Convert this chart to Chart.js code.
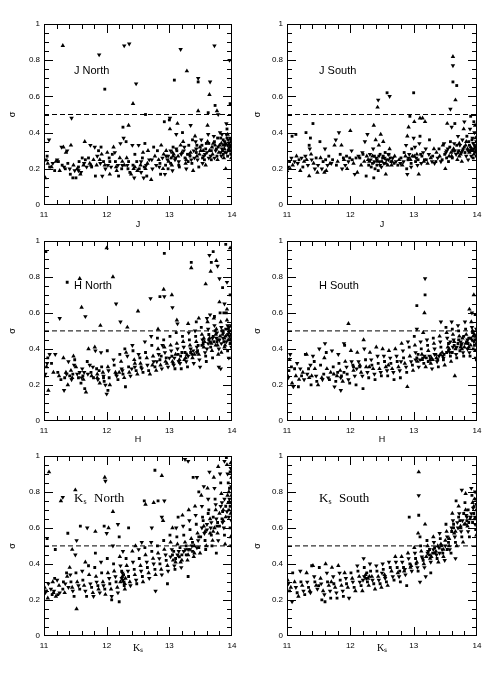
<!DOCTYPE html>
<html><head><meta charset="utf-8">
<script src="https://cdn.jsdelivr.net/npm/chart.js@4/dist/chart.umd.min.js"></script>
<style>
html,body{margin:0;padding:0;background:#fff;width:493px;height:673px;overflow:hidden;position:relative;}
canvas{position:absolute;}
</style></head><body>
<canvas id="c0" width="245" height="232" style="left:0;top:0"></canvas>
<canvas id="c1" width="248" height="232" style="left:245px;top:0"></canvas>
<canvas id="c2" width="245" height="215" style="left:0;top:232px"></canvas>
<canvas id="c3" width="248" height="215" style="left:245px;top:232px"></canvas>
<canvas id="c4" width="245" height="226" style="left:0;top:447px"></canvas>
<canvas id="c5" width="248" height="226" style="left:245px;top:447px"></canvas>
<script>
// ---- data: [magnitude, sigma] ----
const jNorth = [
[11.02,0.15],[11.03,0.25],[11.05,0.27],[11.06,0.23],[11.08,0.36],[11.09,0.21],
[11.12,0.21],[11.14,0.23],[11.17,0.19],[11.19,0.24],
[11.21,0.25],[11.23,0.24],[11.25,0.19],[11.28,0.32],[11.29,0.22],
[11.31,0.32],[11.32,0.21],[11.34,0.2],[11.35,0.29],[11.37,0.3],[11.38,0.23],[11.30,0.88],
[11.41,0.2],[11.42,0.17],[11.43,0.33],[11.44,0.48],[11.46,0.15],[11.47,0.22],[11.49,0.19],
[11.51,0.15],[11.53,0.2],[11.55,0.19],[11.56,0.24],[11.58,0.17],[11.59,0.18],
[11.61,0.26],[11.63,0.22],[11.64,0.23],[11.66,0.25],[11.65,0.35],[11.68,0.21],
[11.71,0.26],[11.73,0.23],[11.74,0.33],[11.76,0.21],[11.79,0.25],
[11.81,0.32],[11.82,0.16],[11.84,0.22],[11.85,0.27],[11.87,0.3],[11.89,0.25],[11.88,0.83],
[11.91,0.32],[11.92,0.28],[11.93,0.16],[11.95,0.24],[11.97,0.22],[11.98,0.2],[11.97,0.64],
[12.01,0.29],[12.02,0.22],[12.04,0.26],[12.05,0.17],[12.07,0.21],[12.09,0.28],
[12.11,0.32],[12.13,0.29],[12.14,0.24],[12.16,0.19],[12.18,0.22],[12.19,0.16],
[12.21,0.26],[12.22,0.34],[12.24,0.2],[12.25,0.24],[12.27,0.37],[12.26,0.43],[12.28,0.22],[12.28,0.88],
[12.31,0.35],[12.32,0.26],[12.33,0.22],[12.34,0.2],[12.35,0.44],[12.36,0.89],[12.37,0.18],[12.39,0.17],
[12.41,0.33],[12.42,0.22],[12.43,0.2],[12.44,0.15],[12.45,0.28],[12.42,0.56],[12.47,0.67],[12.48,0.24],[12.49,0.19],
[12.51,0.33],[12.52,0.2],[12.54,0.22],[12.55,0.18],[12.57,0.26],[12.58,0.29],[12.59,0.15],
[12.61,0.34],[12.62,0.2],[12.63,0.22],[12.64,0.16],[12.66,0.3],[12.68,0.25],[12.62,0.5],
[12.71,0.14],[12.73,0.2],[12.75,0.32],[12.77,0.27],[12.79,0.22],
[12.81,0.3],[12.83,0.25],[12.84,0.21],[12.86,0.17],[12.87,0.33],[12.89,0.26],
[12.92,0.46],[12.91,0.28],[12.93,0.17],[12.94,0.22],[12.95,0.3],[12.97,0.25],[12.98,0.2],[12.99,0.24],
[13.01,0.48],[13.0,0.47],[13.01,0.42],[13.02,0.3],[13.03,0.26],[13.04,0.22],[13.05,0.19],[13.06,0.32],[13.07,0.28],[13.09,0.25],[13.08,0.69],
[13.13,0.45],[13.11,0.39],[13.12,0.3],[13.14,0.27],[13.15,0.24],[13.16,0.21],[13.18,0.33],[13.18,0.86],
[13.21,0.40],[13.22,0.35],[13.23,0.3],[13.25,0.26],[13.26,0.23],[13.27,0.2],[13.29,0.28],[13.28,0.74],
[13.34,0.44],[13.31,0.33],[13.32,0.28],[13.35,0.25],[13.36,0.23],[13.38,0.19],[13.39,0.3],[13.37,0.36],
[13.41,0.38],[13.42,0.35],[13.43,0.29],[13.44,0.27],[13.45,0.25],[13.47,0.21],[13.46,0.52],[13.46,0.70],[13.46,0.68],[13.49,0.32],
[13.51,0.36],[13.52,0.33],[13.54,0.3],[13.55,0.27],[13.56,0.25],[13.58,0.22],[13.57,0.28],[13.59,0.34],
[13.61,0.44],[13.62,0.39],[13.63,0.34],[13.64,0.3],[13.66,0.27],[13.67,0.25],[13.64,0.61],[13.65,0.68],[13.62,0.51],[13.69,0.28],
[13.71,0.38],[13.72,0.35],[13.73,0.33],[13.74,0.3],[13.76,0.27],[13.77,0.25],[13.72,0.88],[13.73,0.55],[13.76,0.52],[13.78,0.5],[13.78,0.32],[13.79,0.29],
[13.81,0.4],[13.82,0.37],[13.83,0.34],[13.84,0.31],[13.86,0.28],[13.87,0.26],[13.88,0.35],[13.89,0.33],[13.85,0.3],
[13.91,0.45],[13.92,0.42],[13.93,0.39],[13.94,0.36],[13.95,0.34],[13.96,0.32],[13.97,0.3],[13.98,0.28],[13.99,0.26],[13.96,0.8],[13.97,0.56],[13.9,0.2],[13.93,0.33],[13.98,0.35],
[13.88,0.31],[13.91,0.29],[13.94,0.3],[13.97,0.33],[13.99,0.36],[13.92,0.37],[13.86,0.33],[13.82,0.29],[13.75,0.31],[13.68,0.32],
[13.6,0.29],[13.53,0.26],[13.48,0.28],[13.43,0.31],[13.33,0.27],[13.27,0.25],[13.19,0.28],[13.1,0.26],[13.05,0.29],[12.98,0.27],
[13.02,0.23],[13.06,0.27],[13.11,0.31],[13.15,0.22],[13.2,0.29],[13.24,0.32],[13.3,0.24],[13.34,0.29],[13.4,0.26],[13.44,0.33],
[13.5,0.3],[13.53,0.23],[13.58,0.31],[13.61,0.35],[13.63,0.26],[13.67,0.3],[13.7,0.34],[13.72,0.26],[13.77,0.37],[13.8,0.33],
[13.83,0.27],[13.86,0.36],[13.89,0.29],[13.91,0.39],[13.93,0.27],[13.95,0.31],[13.97,0.37],[13.99,0.32],[13.9,0.34],[13.84,0.39],
[12.05,0.24],[12.15,0.21],[12.25,0.22],[12.35,0.24],[12.45,0.21],[12.55,0.24],[12.6,0.21],[12.65,0.23],[12.72,0.25],[12.85,0.23],
[12.9,0.2],[12.95,0.27],[11.55,0.21],[11.75,0.22],[11.9,0.23]
];
const jSouth = [
[11.0,0.19],[11.02,0.21],[11.04,0.24],[11.05,0.2],[11.07,0.26],[11.08,0.38],[11.09,0.22],
[11.12,0.24],[11.14,0.39],[11.15,0.27],[11.17,0.23],[11.19,0.25],
[11.21,0.19],[11.23,0.26],[11.25,0.21],[11.27,0.24],[11.29,0.27],
[11.3,0.4],[11.31,0.25],[11.33,0.22],[11.35,0.33],[11.35,0.16],[11.36,0.31],[11.37,0.37],[11.38,0.28],[11.39,0.25],
[11.41,0.45],[11.42,0.23],[11.44,0.2],[11.46,0.26],[11.48,0.18],[11.49,0.22],
[11.52,0.35],[11.53,0.26],[11.55,0.2],[11.57,0.24],[11.59,0.18],
[11.6,0.31],[11.61,0.25],[11.62,0.19],[11.64,0.22],[11.66,0.27],[11.68,0.23],
[11.7,0.23],[11.72,0.25],[11.75,0.33],[11.77,0.36],[11.78,0.22],
[11.8,0.24],[11.82,0.4],[11.84,0.28],[11.86,0.33],[11.87,0.2],[11.89,0.26],
[11.9,0.25],[11.92,0.22],[11.94,0.27],[11.95,0.2],[11.97,0.24],[11.99,0.26],
[12.0,0.41],[12.02,0.3],[12.03,0.25],[12.05,0.23],[12.07,0.17],[12.09,0.26],
[12.11,0.18],[12.13,0.27],[12.15,0.26],[12.17,0.22],[12.19,0.29],
[12.2,0.28],[12.22,0.24],[12.23,0.35],[12.25,0.16],[12.26,0.27],[12.27,0.39],[12.29,0.22],
[12.3,0.24],[12.31,0.28],[12.33,0.21],[12.35,0.27],[12.36,0.31],[12.37,0.15],[12.37,0.44],[12.38,0.24],[12.39,0.2],
[12.4,0.36],[12.41,0.26],[12.42,0.22],[12.43,0.54],[12.44,0.58],[12.44,0.19],[12.45,0.33],[12.46,0.24],[12.47,0.28],[12.48,0.39],[12.49,0.21],
[12.51,0.26],[12.52,0.35],[12.53,0.23],[12.55,0.29],[12.56,0.17],[12.57,0.25],[12.58,0.62],[12.59,0.22],
[12.6,0.25],[12.61,0.28],[12.62,0.31],[12.62,0.6],[12.64,0.24],[12.65,0.22],[12.67,0.26],[12.69,0.23],
[12.7,0.27],[12.72,0.24],[12.75,0.22],[12.77,0.25],[12.79,0.23],
[12.8,0.26],[12.82,0.22],[12.84,0.24],[12.85,0.29],[12.87,0.27],[12.88,0.33],[12.89,0.2],
[12.9,0.38],[12.9,0.17],[12.91,0.25],[12.92,0.43],[12.93,0.28],[12.94,0.49],[12.95,0.25],[12.96,0.21],[12.97,0.31],[12.98,0.27],
[13.0,0.37],[13.0,0.62],[13.01,0.46],[13.02,0.32],[13.03,0.24],[13.05,0.28],[13.06,0.22],[13.07,0.25],[13.08,0.17],[13.09,0.34],
[13.1,0.38],[13.1,0.48],[13.12,0.23],[13.13,0.27],[13.14,0.48],[13.15,0.29],[13.17,0.25],[13.18,0.46],[13.19,0.31],
[13.2,0.25],[13.22,0.23],[13.24,0.28],[13.25,0.36],[13.27,0.26],[13.29,0.24],
[13.3,0.27],[13.32,0.31],[13.33,0.23],[13.35,0.24],[13.36,0.29],[13.38,0.26],
[13.4,0.31],[13.41,0.27],[13.43,0.24],[13.45,0.25],[13.46,0.33],[13.48,0.34],[13.49,0.28],
[13.5,0.2],[13.51,0.29],[13.52,0.26],[13.53,0.45],[13.54,0.31],[13.55,0.24],[13.56,0.27],[13.58,0.53],[13.58,0.35],[13.59,0.29],
[13.6,0.43],[13.61,0.26],[13.62,0.82],[13.62,0.77],[13.62,0.68],[13.63,0.31],[13.64,0.34],[13.65,0.45],[13.66,0.58],[13.67,0.28],[13.68,0.66],[13.69,0.25],
[13.7,0.38],[13.71,0.3],[13.72,0.27],[13.73,0.33],[13.75,0.29],[13.76,0.24],[13.77,0.36],[13.78,0.31],[13.79,0.42],
[13.8,0.46],[13.81,0.29],[13.82,0.33],[13.83,0.27],[13.84,0.38],[13.85,0.31],[13.86,0.25],[13.87,0.35],[13.88,0.29],[13.89,0.42],
[13.9,0.49],[13.9,0.32],[13.91,0.27],[13.92,0.36],[13.93,0.3],[13.94,0.34],[13.95,0.46],[13.95,0.28],[13.96,0.4],[13.97,0.32],[13.98,0.3],[13.99,0.35],[13.99,0.27],[13.97,0.44],
[12.42,0.25],[12.45,0.27],[12.5,0.24],[12.54,0.26],[12.35,0.23],[12.28,0.25],[13.62,0.3],[13.68,0.33],[13.74,0.28],[13.9,0.3],[13.94,0.26],[13.97,0.29],
[12.32,0.25],[12.38,0.27],[12.43,0.24],[12.47,0.22],[12.52,0.27],[12.56,0.23],[12.6,0.28],[12.63,0.26],[12.66,0.24],[12.92,0.26],
[12.96,0.23],[13.01,0.27],[13.04,0.26],[13.11,0.28],[13.16,0.24],
[13.52,0.3],[13.57,0.32],[13.6,0.27],[13.65,0.3],[13.7,0.29],[13.72,0.34],[13.77,0.3],[13.8,0.32],[13.83,0.35],[13.86,0.3],
[13.88,0.33],[13.91,0.31],[13.93,0.37],[13.96,0.33],[13.98,0.37],[13.95,0.31],[13.99,0.32]
];
const hNorth = [
[11.01,0.25],[11.02,0.26],[11.03,0.94],[11.04,0.3],[11.05,0.32],[11.06,0.35],[11.07,0.17],[11.09,0.37],
[11.12,0.32],[11.15,0.27],[11.18,0.37],
[11.22,0.27],[11.24,0.25],[11.25,0.57],[11.27,0.23],
[11.31,0.35],[11.32,0.17],[11.33,0.24],[11.35,0.27],[11.36,0.26],[11.37,0.77],[11.38,0.2],[11.39,0.33],
[11.41,0.25],[11.43,0.28],[11.44,0.23],[11.46,0.26],[11.47,0.36],[11.48,0.31],[11.49,0.34],
[11.51,0.3],[11.53,0.26],[11.55,0.24],[11.57,0.79],[11.57,0.27],[11.59,0.21],[11.6,0.63],
[11.61,0.29],[11.62,0.25],[11.63,0.23],[11.64,0.27],[11.65,0.18],[11.67,0.16],[11.66,0.58],[11.69,0.33],
[11.71,0.4],[11.73,0.31],[11.75,0.27],[11.76,0.25],[11.78,0.3],[11.79,0.24],
[11.81,0.41],[11.82,0.39],[11.84,0.29],[11.85,0.26],[11.86,0.23],[11.88,0.28],[11.89,0.21],
[11.91,0.38],[11.92,0.3],[11.94,0.27],[11.95,0.25],[11.96,0.22],[11.9,0.53],[11.98,0.2],
[12.01,0.39],[12.02,0.3],[12.03,0.28],[12.04,0.24],[12.05,0.2],[12.0,0.15],[12.02,0.17],[12.0,0.96],
[12.11,0.34],[12.12,0.31],[12.14,0.27],[12.16,0.25],[12.18,0.23],[12.1,0.8],[12.15,0.65],
[12.21,0.37],[12.23,0.33],[12.24,0.29],[12.26,0.26],[12.28,0.24],[12.22,0.55],[12.29,0.4],
[12.31,0.38],[12.33,0.36],[12.35,0.3],[12.36,0.27],[12.38,0.25],[12.3,0.19],[12.33,0.52],
[12.41,0.42],[12.42,0.39],[12.44,0.34],[12.45,0.3],[12.47,0.28],[12.49,0.26],
[12.51,0.37],[12.53,0.35],[12.54,0.32],[12.56,0.29],[12.58,0.27],[12.5,0.61],
[12.61,0.44],[12.62,0.38],[12.64,0.35],[12.65,0.31],[12.67,0.28],[12.69,0.26],
[12.71,0.47],[12.72,0.42],[12.74,0.36],[12.75,0.33],[12.77,0.3],[12.79,0.28],[12.7,0.68],
[12.81,0.46],[12.82,0.4],[12.83,0.37],[12.85,0.34],[12.86,0.31],[12.88,0.29],[12.85,0.69],[12.82,0.51],[12.89,0.42],
[12.91,0.45],[12.92,0.41],[12.93,0.38],[12.95,0.35],[12.96,0.32],[12.98,0.3],[12.92,0.93],[12.91,0.73],[12.92,0.69],
[13.01,0.47],[13.02,0.42],[13.03,0.39],[13.04,0.36],[13.05,0.33],[13.07,0.31],[13.09,0.29],[13.04,0.7],[13.05,0.63],
[13.11,0.49],[13.12,0.43],[13.13,0.4],[13.14,0.37],[13.16,0.34],[13.17,0.32],[13.19,0.29],[13.12,0.56],[13.13,0.54],
[13.21,0.47],[13.22,0.44],[13.23,0.41],[13.25,0.38],[13.26,0.35],[13.27,0.33],[13.29,0.3],[13.3,0.54],
[13.31,0.49],[13.32,0.45],[13.33,0.42],[13.34,0.4],[13.36,0.37],[13.37,0.35],[13.39,0.32],[13.35,0.88],[13.35,0.85],
[13.41,0.5],[13.42,0.47],[13.43,0.44],[13.44,0.41],[13.45,0.39],[13.47,0.37],[13.48,0.34],[13.43,0.55],[13.47,0.57],[13.49,0.3],
[13.51,0.52],[13.52,0.48],[13.53,0.45],[13.54,0.43],[13.55,0.41],[13.57,0.38],[13.58,0.36],[13.58,0.76],[13.6,0.57],[13.59,0.33],
[13.61,0.55],[13.62,0.51],[13.63,0.48],[13.64,0.46],[13.65,0.44],[13.66,0.41],[13.68,0.39],[13.64,0.92],[13.67,0.88],[13.66,0.83],[13.65,0.59],[13.69,0.35],
[13.71,0.57],[13.72,0.53],[13.73,0.5],[13.74,0.48],[13.75,0.46],[13.76,0.44],[13.77,0.42],[13.79,0.4],[13.7,0.94],[13.75,0.89],[13.77,0.86],[13.72,0.58],[13.78,0.37],[13.79,0.3],
[13.81,0.6],[13.82,0.55],[13.83,0.52],[13.84,0.5],[13.85,0.48],[13.86,0.46],[13.87,0.44],[13.89,0.42],[13.8,0.79],[13.85,0.74],[13.8,0.66],[13.88,0.65],[13.87,0.6],[13.83,0.38],[13.82,0.29],
[13.91,0.6],[13.92,0.56],[13.93,0.53],[13.94,0.51],[13.95,0.49],[13.96,0.47],[13.97,0.45],[13.98,0.43],[13.99,0.41],[13.9,0.98],[13.97,0.96],[13.92,0.77],[13.97,0.7],[13.92,0.62],[13.95,0.35],[13.93,0.39],
[13.55,0.46],[13.62,0.43],[13.7,0.47],[13.75,0.51],[13.8,0.45],[13.85,0.5],[13.9,0.47],[13.95,0.52],[13.98,0.48],[13.88,0.41],
[13.08,0.35],[13.18,0.36],[13.28,0.37],[13.38,0.39],[13.46,0.42],[11.45,0.24],[11.7,0.26],[11.95,0.24],[12.2,0.27],[12.4,0.29],
[13.52,0.42],[13.56,0.44],[13.6,0.4],[13.63,0.45],[13.67,0.43],[13.69,0.46],[13.71,0.44],[13.74,0.42],[13.76,0.49],[13.78,0.45],
[13.81,0.47],[13.83,0.43],[13.86,0.49],[13.88,0.46],[13.91,0.44],[13.93,0.48],[13.94,0.45],[13.96,0.5],[13.97,0.43],[13.99,0.46],
[13.98,0.53],[13.9,0.51],
[12.73,0.31],[12.8,0.33],[12.87,0.36],[12.94,0.33],[13.0,0.35],[13.06,0.32],[13.1,0.37],[13.15,0.33],[13.2,0.38],[13.24,0.34],
[13.3,0.36],[13.34,0.38],[13.4,0.37],[13.44,0.38],[12.55,0.3],[12.45,0.32],[12.25,0.28],[12.15,0.26],[11.85,0.24],[11.6,0.24]
];
const hSouth = [
[11.01,0.25],[11.02,0.24],[11.03,0.28],[11.04,0.34],[11.05,0.37],[11.07,0.3],[11.08,0.21],[11.1,0.19],
[11.12,0.29],[11.14,0.25],[11.16,0.32],[11.18,0.19],[11.19,0.23],
[11.21,0.29],[11.23,0.25],[11.25,0.27],[11.27,0.23],[11.29,0.37],
[11.31,0.37],[11.32,0.26],[11.34,0.29],[11.35,0.24],[11.37,0.31],[11.38,0.2],[11.39,0.25],
[11.41,0.36],[11.43,0.33],[11.44,0.29],[11.46,0.25],[11.47,0.22],[11.49,0.2],
[11.51,0.4],[11.53,0.31],[11.55,0.24],[11.56,0.23],[11.58,0.26],[11.59,0.35],
[11.6,0.43],[11.62,0.38],[11.63,0.29],[11.65,0.24],[11.67,0.23],[11.69,0.27],
[11.71,0.39],[11.73,0.3],[11.74,0.26],[11.75,0.19],[11.77,0.22],[11.79,0.25],
[11.81,0.37],[11.82,0.32],[11.84,0.28],[11.85,0.17],[11.86,0.25],[11.88,0.22],[11.9,0.43],
[11.91,0.42],[11.92,0.33],[11.94,0.3],[11.95,0.26],[11.97,0.54],[11.97,0.23],[11.99,0.21],
[12.01,0.39],[12.02,0.33],[12.04,0.31],[12.05,0.28],[12.07,0.25],[12.09,0.2],
[12.11,0.38],[12.13,0.33],[12.15,0.3],[12.17,0.27],[12.19,0.25],
[12.2,0.18],[12.21,0.45],[12.22,0.4],[12.24,0.34],[12.25,0.3],[12.27,0.27],[12.29,0.24],
[12.31,0.38],[12.33,0.34],[12.34,0.31],[12.36,0.29],[12.38,0.26],[12.39,0.23],
[12.41,0.41],[12.43,0.36],[12.44,0.32],[12.46,0.29],[12.48,0.27],[12.49,0.25],
[12.51,0.4],[12.53,0.36],[12.54,0.33],[12.56,0.3],[12.58,0.28],[12.59,0.25],
[12.61,0.39],[12.63,0.35],[12.64,0.32],[12.66,0.29],[12.68,0.27],[12.69,0.23],
[12.71,0.4],[12.73,0.36],[12.74,0.33],[12.76,0.3],[12.78,0.28],[12.79,0.24],
[12.81,0.43],[12.83,0.39],[12.84,0.35],[12.86,0.32],[12.88,0.3],[12.89,0.27],
[12.9,0.19],[12.91,0.44],[12.93,0.41],[12.94,0.36],[12.96,0.33],[12.98,0.31],[12.99,0.28],
[13.05,0.51],[13.01,0.47],[13.02,0.42],[13.03,0.38],[13.05,0.35],[13.06,0.33],[13.08,0.3],[13.05,0.64],
[13.15,0.49],[13.11,0.44],[13.12,0.4],[13.13,0.37],[13.15,0.35],[13.16,0.32],[13.19,0.3],[13.18,0.79],[13.18,0.7],[13.17,0.6],
[13.21,0.45],[13.22,0.42],[13.23,0.39],[13.25,0.36],[13.26,0.34],[13.27,0.32],[13.29,0.29],
[13.31,0.46],[13.32,0.43],[13.33,0.4],[13.35,0.37],[13.36,0.35],[13.37,0.33],[13.39,0.3],
[13.41,0.47],[13.42,0.44],[13.43,0.41],[13.45,0.38],[13.46,0.36],[13.47,0.34],[13.49,0.31],[13.43,0.55],
[13.51,0.52],[13.52,0.49],[13.53,0.46],[13.55,0.43],[13.56,0.4],[13.57,0.38],[13.58,0.36],[13.59,0.33],
[13.6,0.55],[13.61,0.51],[13.62,0.48],[13.63,0.45],[13.64,0.42],[13.66,0.4],[13.67,0.37],[13.68,0.35],[13.65,0.25],
[13.7,0.53],[13.71,0.5],[13.72,0.47],[13.74,0.44],[13.75,0.42],[13.76,0.4],[13.78,0.38],[13.79,0.36],
[13.88,0.62],[13.81,0.55],[13.82,0.51],[13.83,0.48],[13.85,0.45],[13.86,0.43],[13.87,0.41],[13.88,0.38],[13.89,0.36],
[13.95,0.7],[13.92,0.6],[13.97,0.59],[13.91,0.55],[13.92,0.52],[13.93,0.49],[13.94,0.47],[13.95,0.44],[13.96,0.42],[13.97,0.39],[13.98,0.35],[13.99,0.34],
[13.55,0.39],[13.62,0.41],[13.7,0.43],[13.77,0.46],[13.84,0.44],[13.9,0.46],[13.96,0.48],[13.99,0.51],[13.73,0.39],[13.8,0.41],
[13.1,0.34],[13.2,0.35],[13.3,0.34],[13.4,0.36],[13.48,0.37],[12.3,0.3],[12.1,0.29],[11.9,0.27],[12.6,0.31],[12.8,0.33],
[13.52,0.38],[13.54,0.41],[13.58,0.44],[13.61,0.38],[13.64,0.44],[13.68,0.41],[13.71,0.45],[13.74,0.41],[13.76,0.43],[13.79,0.47],
[13.82,0.43],[13.85,0.4],[13.87,0.46],[13.9,0.42],[13.92,0.45],[13.94,0.4],[13.97,0.45],[13.99,0.43],[13.98,0.47],[13.93,0.5],
[13.03,0.34],[13.07,0.37],[13.13,0.34],[13.17,0.36],[13.23,0.33],[13.28,0.35],[13.33,0.37],[13.38,0.34],[13.42,0.37],[13.47,0.35],
[12.05,0.3],[12.15,0.31],[11.85,0.24],[11.8,0.27]
];
const ksNorth = [
[11.01,0.27],[11.02,0.24],[11.04,0.25],[11.06,0.21],[11.07,0.29],[11.05,0.54],[11.08,0.91],
[11.11,0.26],[11.13,0.23],[11.14,0.3],[11.16,0.25],[11.17,0.32],[11.19,0.22],
[11.21,0.31],[11.22,0.23],[11.24,0.28],[11.25,0.24],[11.18,0.48],[11.27,0.75],[11.3,0.77],
[11.31,0.3],[11.33,0.24],[11.34,0.29],[11.36,0.35],[11.37,0.33],[11.39,0.27],[11.38,0.57],
[11.41,0.38],[11.42,0.34],[11.43,0.3],[11.45,0.27],[11.46,0.25],[11.48,0.22],[11.45,0.48],[11.5,0.45],
[11.51,0.35],[11.53,0.3],[11.55,0.28],[11.57,0.26],[11.52,0.15],[11.52,0.53],[11.58,0.61],[11.5,0.81],
[11.61,0.36],[11.62,0.31],[11.64,0.28],[11.66,0.25],[11.68,0.22],[11.66,0.41],[11.69,0.6],
[11.71,0.39],[11.72,0.34],[11.74,0.29],[11.76,0.27],[11.78,0.24],[11.79,0.22],
[11.81,0.38],[11.83,0.33],[11.84,0.3],[11.86,0.28],[11.87,0.26],[11.89,0.24],[11.82,0.46],[11.82,0.58],
[11.91,0.41],[11.92,0.35],[11.94,0.3],[11.95,0.28],[11.97,0.26],[11.98,0.23],[12.0,0.57],[11.96,0.61],[11.97,0.88],[11.98,0.86],
[12.01,0.43],[12.02,0.35],[12.04,0.32],[12.05,0.29],[12.07,0.26],[12.08,0.22],[12.08,0.2],[12.03,0.6],[12.1,0.5],
[12.11,0.4],[12.12,0.36],[12.14,0.33],[12.15,0.3],[12.17,0.27],[12.18,0.24],[12.2,0.19],[12.1,0.69],[12.18,0.62],[12.2,0.55],
[12.21,0.44],[12.22,0.39],[12.24,0.36],[12.25,0.33],[12.27,0.3],[12.28,0.28],[12.29,0.26],[12.26,0.47],
[12.31,0.43],[12.32,0.39],[12.34,0.36],[12.35,0.33],[12.37,0.3],[12.38,0.28],[12.35,0.6],
[12.41,0.47],[12.42,0.41],[12.44,0.37],[12.45,0.34],[12.47,0.31],[12.48,0.29],[12.46,0.5],
[12.51,0.48],[12.52,0.43],[12.54,0.39],[12.55,0.36],[12.57,0.33],[12.58,0.3],[12.56,0.52],
[12.61,0.49],[12.62,0.45],[12.64,0.41],[12.65,0.38],[12.67,0.35],[12.68,0.32],[12.6,0.75],[12.62,0.73],
[12.71,0.52],[12.72,0.47],[12.74,0.43],[12.75,0.4],[12.77,0.37],[12.78,0.34],[12.78,0.25],[12.77,0.92],[12.75,0.74],[12.72,0.6],
[12.81,0.5],[12.82,0.46],[12.84,0.43],[12.85,0.4],[12.87,0.37],[12.88,0.34],[12.82,0.75],[12.88,0.89],[12.88,0.66],
[12.91,0.53],[12.92,0.48],[12.94,0.45],[12.95,0.42],[12.97,0.39],[12.98,0.36],[12.97,0.29],[12.9,0.64],[12.92,0.75],
[13.01,0.56],[13.02,0.52],[13.04,0.48],[13.05,0.45],[13.06,0.42],[13.08,0.39],[13.09,0.37],[13.05,0.6],
[13.11,0.6],[13.12,0.55],[13.13,0.51],[13.15,0.47],[13.16,0.44],[13.18,0.41],[13.19,0.38],[13.14,0.66],
[13.21,0.67],[13.22,0.61],[13.23,0.56],[13.25,0.52],[13.26,0.48],[13.27,0.45],[13.29,0.42],[13.25,0.98],[13.3,0.33],
[13.31,0.7],[13.32,0.64],[13.33,0.59],[13.35,0.54],[13.36,0.5],[13.37,0.47],[13.39,0.44],[13.3,0.97],[13.38,0.88],
[13.41,0.72],[13.42,0.67],[13.43,0.62],[13.45,0.57],[13.46,0.53],[13.47,0.49],[13.49,0.46],[13.44,0.88],[13.47,0.8],
[13.51,0.78],[13.52,0.72],[13.53,0.66],[13.55,0.61],[13.56,0.57],[13.57,0.53],[13.59,0.5],[13.55,0.83],[13.58,0.48],
[13.61,0.82],[13.62,0.76],[13.63,0.7],[13.65,0.65],[13.66,0.6],[13.67,0.56],[13.69,0.53],[13.64,0.91],[13.68,0.5],
[13.71,0.88],[13.72,0.82],[13.73,0.76],[13.74,0.7],[13.75,0.65],[13.76,0.61],[13.77,0.57],[13.78,0.53],[13.75,0.46],[13.78,0.94],
[13.81,0.9],[13.82,0.85],[13.83,0.79],[13.84,0.74],[13.85,0.69],[13.86,0.64],[13.87,0.6],[13.88,0.56],[13.89,0.51],[13.88,0.97],
[13.91,0.99],[13.92,0.95],[13.93,0.9],[13.94,0.85],[13.95,0.8],[13.96,0.76],[13.97,0.72],[13.98,0.68],[13.99,0.64],[13.97,0.6],[13.98,0.55],[13.99,0.5],
[13.95,0.7],[13.9,0.66],[13.85,0.63],[13.8,0.61],[13.7,0.58],[13.6,0.59],[13.5,0.55],[13.4,0.5],[13.3,0.48],[13.2,0.45],
[13.99,0.88],[13.98,0.93],[13.96,0.82],[13.94,0.74],[13.92,0.69],[13.1,0.43],[12.3,0.32],[12.25,0.35],[11.3,0.26],[11.15,0.24],
[13.52,0.6],[13.54,0.64],[13.57,0.58],[13.6,0.62],[13.62,0.68],[13.65,0.57],[13.67,0.63],[13.7,0.66],[13.72,0.6],[13.74,0.73],
[13.77,0.63],[13.8,0.68],[13.82,0.72],[13.84,0.65],[13.86,0.7],[13.88,0.76],[13.9,0.72],[13.93,0.78],[13.95,0.66],[13.97,0.74],
[13.99,0.78],[13.99,0.83],[13.97,0.91],[13.98,0.96],
[13.02,0.44],[13.07,0.47],[13.1,0.41],[13.13,0.45],[13.17,0.49],[13.2,0.42],[13.23,0.47],[13.27,0.5],[13.3,0.45],[13.33,0.48],
[13.37,0.52],[13.4,0.46],[13.44,0.49],[13.47,0.55],
[12.22,0.3],[12.24,0.32],[12.27,0.34],[12.29,0.29],[12.26,0.31]
];
const ksSouth = [
[11.01,0.31],[11.02,0.29],[11.04,0.25],[11.06,0.27],[11.08,0.19],[11.09,0.35],
[11.12,0.3],[11.14,0.27],[11.16,0.24],[11.18,0.22],
[11.21,0.36],[11.22,0.3],[11.24,0.28],[11.26,0.25],[11.28,0.23],
[11.31,0.35],[11.32,0.3],[11.34,0.27],[11.36,0.25],[11.37,0.24],[11.39,0.39],
[11.41,0.39],[11.43,0.33],[11.44,0.3],[11.46,0.28],[11.48,0.26],
[11.51,0.38],[11.53,0.32],[11.54,0.29],[11.55,0.2],[11.57,0.25],[11.59,0.23],[11.6,0.19],
[11.61,0.4],[11.63,0.35],[11.64,0.3],[11.66,0.28],[11.68,0.25],[11.69,0.21],
[11.71,0.38],[11.73,0.33],[11.74,0.29],[11.76,0.27],[11.78,0.24],[11.79,0.21],
[11.81,0.39],[11.83,0.35],[11.84,0.31],[11.86,0.28],[11.88,0.25],[11.89,0.22],
[11.91,0.35],[11.93,0.32],[11.94,0.29],[11.96,0.27],[11.98,0.21],
[12.01,0.35],[12.03,0.32],[12.04,0.3],[12.06,0.27],[12.08,0.25],
[12.11,0.39],[12.12,0.36],[12.14,0.33],[12.15,0.3],[12.17,0.28],[12.19,0.25],
[12.21,0.43],[12.22,0.38],[12.24,0.34],[12.25,0.32],[12.27,0.3],[12.29,0.28],
[12.31,0.4],[12.32,0.36],[12.34,0.33],[12.35,0.31],[12.37,0.29],[12.39,0.26],
[12.41,0.39],[12.42,0.36],[12.44,0.33],[12.45,0.31],[12.47,0.29],[12.49,0.27],
[12.51,0.4],[12.52,0.37],[12.54,0.34],[12.55,0.32],[12.57,0.3],[12.59,0.28],
[12.61,0.41],[12.63,0.38],[12.65,0.36],[12.67,0.33],[12.69,0.31],
[12.71,0.44],[12.72,0.41],[12.74,0.38],[12.75,0.35],[12.77,0.33],[12.79,0.3],
[12.81,0.44],[12.82,0.41],[12.84,0.38],[12.85,0.36],[12.87,0.34],[12.89,0.28],
[12.91,0.46],[12.92,0.43],[12.94,0.4],[12.95,0.38],[12.97,0.36],[12.93,0.66],
[13.01,0.49],[13.02,0.46],[13.03,0.43],[13.05,0.41],[13.06,0.38],[13.07,0.36],[13.08,0.91],[13.08,0.78],[13.08,0.67],[13.07,0.57],[13.1,0.3],
[13.11,0.5],[13.12,0.47],[13.13,0.44],[13.15,0.42],[13.16,0.4],[13.17,0.38],[13.1,0.55],[13.18,0.62],[13.19,0.33],
[13.21,0.53],[13.22,0.5],[13.23,0.47],[13.25,0.45],[13.26,0.43],[13.27,0.41],[13.27,0.35],
[13.31,0.55],[13.32,0.52],[13.33,0.49],[13.35,0.47],[13.36,0.45],[13.37,0.43],[13.39,0.41],
[13.41,0.57],[13.42,0.54],[13.43,0.51],[13.45,0.48],[13.46,0.46],[13.47,0.44],[13.49,0.42],
[13.51,0.62],[13.52,0.58],[13.53,0.55],[13.55,0.52],[13.56,0.5],[13.57,0.48],[13.59,0.46],
[13.61,0.68],[13.62,0.64],[13.63,0.6],[13.64,0.57],[13.65,0.55],[13.66,0.52],[13.68,0.5],[13.66,0.43],[13.67,0.75],
[13.71,0.72],[13.72,0.68],[13.73,0.64],[13.74,0.61],[13.75,0.58],[13.76,0.55],[13.78,0.52],[13.76,0.81],
[13.81,0.74],[13.82,0.7],[13.83,0.67],[13.84,0.64],[13.85,0.61],[13.86,0.58],[13.88,0.55],[13.82,0.79],
[13.91,0.82],[13.92,0.78],[13.93,0.74],[13.94,0.71],[13.95,0.68],[13.96,0.65],[13.97,0.62],[13.98,0.59],[13.99,0.56],[13.97,0.8],
[13.98,0.76],[13.99,0.7],[13.9,0.66],[13.87,0.63],[13.8,0.62],[13.7,0.6],[13.6,0.58],[13.5,0.53],[13.4,0.49],[13.3,0.46],
[13.2,0.44],[13.14,0.43],[13.04,0.4],[12.96,0.39],[12.86,0.37],[12.78,0.36],[12.3,0.33],[12.2,0.31],[11.5,0.28],[11.7,0.3],
[13.6,0.6],[13.63,0.62],[13.66,0.58],[13.69,0.63],[13.71,0.66],[13.74,0.6],[13.77,0.64],[13.79,0.68],[13.82,0.62],[13.84,0.66],
[13.86,0.7],[13.89,0.65],[13.91,0.68],[13.93,0.63],[13.95,0.72],[13.97,0.66],[13.99,0.73],[13.96,0.76],
[13.22,0.46],[13.25,0.48],[13.28,0.44],[13.31,0.48],[13.34,0.46],[13.38,0.5],[13.41,0.46],[13.44,0.5],[13.47,0.48],[13.5,0.5],
[13.53,0.48],[13.56,0.54],
[12.22,0.33],[12.26,0.35],[12.28,0.32],[12.5,0.35],[12.55,0.33]
];
const threshold = 0.5;
const yTickLabels = ['0','0.2','0.4','0.6','0.8','1'];
const xTickLabels = ['11','12','13','14'];
const panelLabels = ['J North','J South','H North','H South','K|s|North','K|s|South'];
const bandTitles = ['J','J','H','H','K\u209B','K\u209B'];
const datasets = [jNorth, jSouth, hNorth, hSouth, ksNorth, ksSouth];

// layout (pixels, not data)
const layout = [
 {yW:44,padR:13,padT:24,xH:27,tPad:1.6,ly:71},
 {yW:42,padR:16,padT:24,xH:27,tPad:1.6,ly:71},
 {yW:44,padR:13,padT:8,xH:26,tPad:1.6,ly:54},
 {yW:42,padR:16,padT:8,xH:26,tPad:1.6,ly:54},
 {yW:44,padR:13,padT:7,xH:37,tPad:18.6,ly:52},
 {yW:42,padR:16,padT:7,xH:37,tPad:18.6,ly:52}
];

const SANS = '"Liberation Sans", Arial, Helvetica, sans-serif';
const SERIF = '"Liberation Serif", "Times New Roman", serif';

const framePlugin = {
  id:'frameTicks',
  afterDraw(chart, args, opts){
    const ctx = chart.ctx, a = chart.chartArea;
    const xs = chart.scales.x, ys = chart.scales.y;
    ctx.save();
    ctx.fillStyle='#000';
    const L=Math.round(a.left), R=Math.round(a.right)-1, T=Math.round(a.top), B=Math.round(a.bottom)-1;
    // frame
    ctx.fillRect(L,T,R-L+1,1);
    ctx.fillRect(L,B,R-L+1,1);
    ctx.fillRect(L,T,1,B-T+1);
    ctx.fillRect(R,T,1,B-T+1);
    // x ticks (inward, bottom and top)
    for(let i=0;i<=15;i++){
      let px=Math.round(xs.getPixelForValue(11+i*0.2));
      if(px>R) px=R;
      const len=(i%5===0)?8:4;
      ctx.fillRect(px,B-len,1,len);
      ctx.fillRect(px,T+1,1,len);
    }
    // y ticks (inward, left and right)
    for(let j=0;j<=20;j++){
      let py=Math.round(ys.getPixelForValue(j*0.05));
      if(py>B) py=B;
      const len=(j%4===0)?8:4;
      ctx.fillRect(L+1,py,len,1);
      ctx.fillRect(R-len,py,len,1);
    }
    // panel label
    ctx.textBaseline='middle';
    ctx.textAlign='left';
    const lab = opts.label;
    if(lab.indexOf('|')>=0){
      const parts = lab.split('|');
      ctx.font='13px '+SERIF;
      ctx.fillText(parts[0],74,opts.ly);
      const kw = ctx.measureText(parts[0]).width;
      ctx.font='8px '+SERIF;
      ctx.fillText(parts[1],74+kw,opts.ly+3);
      ctx.font='13px '+SERIF;
      ctx.fillText(parts[2],94,opts.ly);
    } else {
      ctx.font='11px '+SANS;
      ctx.fillText(lab,74,opts.ly);
    }
    ctx.restore();
  }
};

const styles=['triangle','triangle','rect'];
datasets.forEach((pts,i)=>{
  const L=layout[i];
  const isK = i>=4;
  new Chart(document.getElementById('c'+i),{
    type:'scatter',
    data:{datasets:[
      {data:pts.map(p=>({x:p[0],y:p[1]})),
       backgroundColor:'#000',borderWidth:0,
       pointStyle:c=>styles[c.dataIndex%3],
       rotation:c=>(c.dataIndex%3===1?180:0),
       pointRadius:c=>(c.dataIndex%3===2?2.0:2.6)},
      {data:[{x:11,y:threshold},{x:14,y:threshold}],showLine:true,pointRadius:0,
       borderColor:'#000',borderWidth:1,borderDash:[5,3]}
    ]},
    options:{
      responsive:false,animation:false,devicePixelRatio:1,
      layout:{padding:{top:L.padT,right:L.padR,left:0,bottom:0}},
      plugins:{legend:{display:false},tooltip:{enabled:false},
        frameTicks:{label:panelLabels[i],ly:L.ly}},
      scales:{
        x:{type:'linear',min:11,max:14,
          afterFit:s=>{s.height=L.xH;},
          afterBuildTicks:s=>{s.ticks=xTickLabels.map(t=>({value:+t}));},
          grid:{display:false,drawTicks:false},border:{display:false},
          ticks:{padding:5,color:'#000',font:{size:8,family:SANS},maxRotation:0,autoSkip:false,
            callback:(v)=>xTickLabels[Math.round(v-11)]},
          title:{display:true,text:bandTitles[i],color:'#000',
            font:{size:isK?10:9,family:isK?SERIF:SANS},padding:{top:0,bottom:L.tPad}}},
        y:{type:'linear',min:0,max:1,
          afterFit:s=>{s.width=L.yW;},
          afterBuildTicks:s=>{s.ticks=yTickLabels.map(t=>({value:+t}));},
          grid:{display:false,drawTicks:false},border:{display:false},
          ticks:{padding:4,color:'#000',font:{size:8,family:SANS},autoSkip:false,
            callback:(v)=>yTickLabels[Math.round(v/0.2)]},
          title:{display:true,text:'\u03C3',color:'#000',font:{size:9,family:SANS},padding:{top:7,bottom:0}}}
      }
    },
    plugins:[framePlugin]
  });
});
</script>
</body></html>
